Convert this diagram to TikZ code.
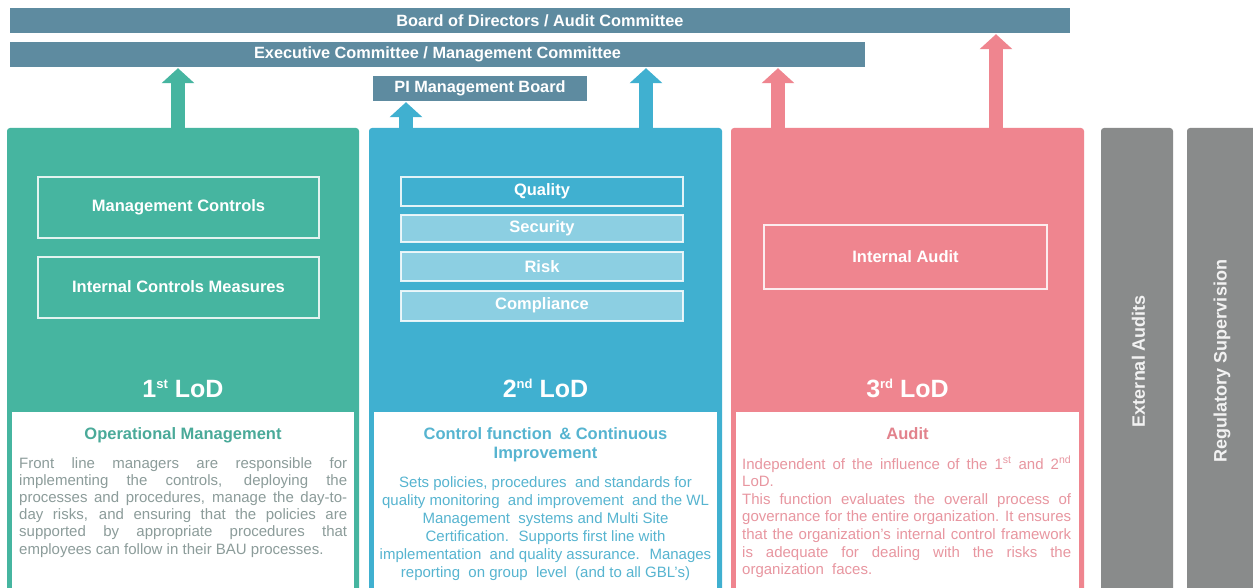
\documentclass[tikz,border=0pt]{standalone}
\usepackage{fontspec}
\setmainfont{Liberation Sans}
\usetikzlibrary{arrows.meta}

\definecolor{barcol}{RGB}{94,139,160}
\definecolor{lodgreen}{RGB}{70,181,160}
\definecolor{lodblue}{RGB}{64,176,208}
\definecolor{lodbluelt}{RGB}{140,207,226}
\definecolor{lodpink}{RGB}{239,133,143}
\definecolor{extgrey}{RGB}{137,139,139}
\definecolor{greentitle}{RGB}{74,170,153}
\definecolor{greentext}{RGB}{140,156,154}
\definecolor{bluetext}{RGB}{86,180,208}
\definecolor{pinktitle}{RGB}{226,130,140}
\definecolor{pinktext}{RGB}{232,150,160}

% one stretched line of justified text
\newcommand\jline[2]{\makebox[#1][s]{#2}}
% small raised ordinal suffix for the line labels
\newcommand\ordsup[1]{\raisebox{8.5pt}{\fontsize{13}{13}\selectfont #1}}

\begin{document}
\begin{tikzpicture}[x=1pt,y=-1pt,
  bar/.style={fill=barcol, text=white, inner sep=0pt,
    font=\fontsize{16.3}{18}\selectfont\bfseries},
  column/.style={fill=#1, rounded corners=3pt, inner sep=0pt},
  panel/.style={fill=white, inner sep=0pt},
  frame/.style={draw=white, draw opacity=0.85, line width=2pt, inner sep=0pt,
    text=white, font=\fontsize{16.5}{19}\selectfont\bfseries},
  lod/.style={text=white, anchor=base, inner sep=0pt,
    font=\fontsize{25}{30}\selectfont\bfseries},
  uparrow/.style={draw=#1, line width=14pt, shorten >=1pt,
    -{Triangle[width=32pt,length=15pt]}},
  sidelabel/.style={rotate=90, text=white!95!black, inner sep=0pt,
    font=\fontsize{18}{20}\selectfont\bfseries},
  ptitle/.style={inner sep=0pt, font=\fontsize{16.5}{19}\selectfont\bfseries},
]
\useasboundingbox (0,0) rectangle (1253,588);
\fill[white] (0,0) rectangle (1253,588);

% governance bars
\node[bar, minimum width=1060pt, minimum height=25pt] (board) at (540,20.5)
  {Board of Directors / Audit Committee};
\node[bar, minimum width=855pt, minimum height=25pt] (exec) at (437.5,54.5)
  {Executive Committee / Management Committee};
\node[bar, minimum width=214pt, minimum height=25pt] (pib) at (480,88.5)
  {PI Management Board};

% the three lines of defence and the external columns
\node[column=lodgreen, minimum width=352pt, minimum height=472pt] (c1) at (183,364) {};
\node[column=lodblue,  minimum width=353pt, minimum height=472pt] (c2) at (545.5,364) {};
\node[column=lodpink,  minimum width=353pt, minimum height=472pt] (c3) at (907.5,364) {};
\node[column=extgrey,  minimum width=72pt,  minimum height=472pt] (c4) at (1137,364) {};
\node[column=extgrey,  minimum width=71pt,  minimum height=472pt] (c5) at (1222.5,364) {};

% arrow positions
\coordinate (a1) at (178,0);
\coordinate (a2) at (406,0);
\coordinate (a3) at (646,0);
\coordinate (a4) at (778,0);
\coordinate (a5) at (996,0);

\draw[uparrow=lodgreen] (c1.north -| a1) -- (exec.south -| a1);
\draw[uparrow=lodblue]  (c2.north -| a2) -- (pib.south -| a2);
\draw[uparrow=lodblue]  (c2.north -| a3) -- (exec.south -| a3);
\draw[uparrow=lodpink]  (c3.north -| a4) -- (exec.south -| a4);
\draw[uparrow=lodpink]  (c3.north -| a5) -- (board.south -| a5);

% 1st line boxes
\node[frame, minimum width=281pt, minimum height=61pt] (mc) at (178.5,207.5) {Management Controls};
\node[frame, minimum width=281pt, minimum height=61pt] (icm) at (178.5,287) {Internal Controls Measures};

% 2nd line boxes
\node[frame, fill=lodblue,   minimum width=282pt, minimum height=29pt] (qual) at (542,191.5) {Quality};
\node[frame, fill=lodbluelt, minimum width=282pt, minimum height=27pt] (sec)  at (542,228.5) {Security};
\node[frame, fill=lodbluelt, minimum width=282pt, minimum height=29pt] (risk) at (542,266.5) {Risk};
\node[frame, fill=lodbluelt, minimum width=282pt, minimum height=30pt] (comp) at (542,305.5) {Compliance};

% 3rd line box
\node[frame, minimum width=283pt, minimum height=64pt] (ia) at (905.5,257) {Internal Audit};

% line labels
\node[lod] (l1) at (183,397) {1\ordsup{st} LoD};
\node[lod] (l2) at (545.5,397) {2\ordsup{nd} LoD};
\node[lod] (l3) at (907.5,397) {3\ordsup{rd} LoD};

% description panels
\node[panel, minimum width=342pt, minimum height=188pt] (p1) at (183,506) {};
\node[panel, minimum width=343pt, minimum height=188pt] (p2) at (545.5,506) {};
\node[panel, minimum width=343pt, minimum height=188pt] (p3) at (907.5,506) {};

\node[ptitle, text=greentitle, anchor=base] (t1) at (183,439) {Operational Management};
\node[ptitle, text=bluetext, anchor=north, align=center] (t2) at (545.5,427)
  {Control function \,\& Continuous\\Improvement};
\node[ptitle, text=pinktitle, anchor=base] (t3) at (907.5,439) {Audit};

\node[anchor=north west, inner sep=0pt, align=left, text=greentext,
  font=\fontsize{15}{17.2}\selectfont] (b1) at (19,457)
  {\jline{328pt}{Front line managers are responsible for}\\
   \jline{328pt}{implementing the controls, deploying the}\\
   \jline{328pt}{processes and procedures, manage the day-to-}\\
   \jline{328pt}{day risks, and ensuring that the policies are}\\
   \jline{328pt}{supported by appropriate procedures that}\\
   employees can follow in their BAU processes.};

\node[anchor=north, inner sep=0pt, align=center, text=bluetext,
  font=\fontsize{15}{18}\selectfont] (b2) at (545.5,476)
  {Sets policies, procedures \ and standards for\\
   quality monitoring \ and improvement \ and the WL\\
   Management \ systems and Multi Site\\
   Certification. \ Supports first line with\\
   implementation \ and quality assurance. \ Manages\\
   reporting \ on group \ level \ (and to all GBL’s)};

\node[anchor=north west, inner sep=0pt, align=left, text=pinktext,
  font=\fontsize{15}{17.6}\selectfont] (b3) at (742,456)
  {\jline{329pt}{Independent of the influence of the 1\textsuperscript{st} and 2\textsuperscript{nd}}\\
   LoD.\\
   \jline{329pt}{This function evaluates the overall process of}\\
   \jline{329pt}{governance for the entire organization. It ensures}\\
   \jline{329pt}{that the organization's internal control framework}\\
   \jline{329pt}{is adequate for dealing with the risks the}\\
   organization \ faces.};

% external columns
\node[sidelabel] (ext) at (1138.5,361) {External Audits};
\node[sidelabel] (reg) at (1222,361) {Regulatory Supervision};
\end{tikzpicture}
\end{document}
